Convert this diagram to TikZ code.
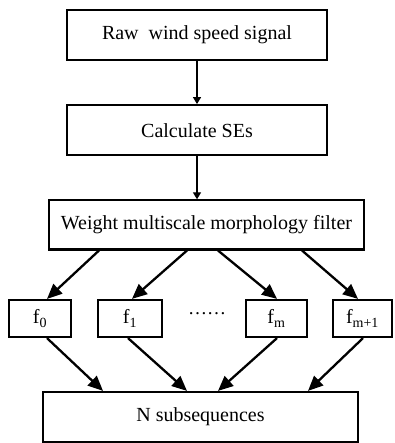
\documentclass[tikz,border=0pt]{standalone}
\usepackage{fontspec}
\setmainfont{Liberation Serif}
\usetikzlibrary{
arrows.meta,
positioning
}

\begin{document}
\begin{tikzpicture}[
x=1pt,y=1pt,
node distance=43pt,
box/.style={
draw,
line width=2.2pt,
minimum width=260pt,
minimum height=50pt,
inner sep=0pt,
align=center,
font=\fontsize{20}{24}\selectfont
},
widebox/.style={box,minimum width=315pt},
fbox/.style={box,minimum width=62pt,minimum height=37pt},
arrow/.style={-{Triangle[length=7pt,width=8pt]},line width=1.4pt},
bigarrow/.style={-{Triangle[length=15pt,width=13pt]},line width=2.3pt}
]
\useasboundingbox (0,0) rectangle (394,-443);

\node[box] (raw) at (197,-35) {Raw\ \ wind speed signal};
\node[box,below=of raw] (ses) {Calculate SEs};
\node[widebox,minimum height=49pt,below=of ses,xshift=9.5pt] (filter) {Weight multiscale morphology filter};

\node[fbox] (f0) at (40,-318.5) {f\textsubscript{0}};
\node[fbox,minimum width=64pt] (f1) at (130,-318.5) {f\textsubscript{1}};
\node[font=\fontsize{19}{23}\selectfont] (dots) at (207,-314) {……};
\node[fbox,minimum width=61pt] (fm) at (276.5,-318.5) {f\textsubscript{m}};
\node[fbox,minimum width=59pt] (fmm) at (362.5,-318.5) {f\textsubscript{m+1}};

\node[widebox] (subseq) at (200.5,-417) {N subsequences};

\draw[arrow] (raw) -- (ses);
\draw[arrow] (ses.south) -- (ses.south |- filter.north);

\draw[bigarrow] ([xshift=-107.5pt]filter.south) -- ([xshift=7pt]f0.north);
\draw[bigarrow] ([xshift=-19.5pt]filter.south) -- ([xshift=2pt]f1.north);
\draw[bigarrow] ([xshift=11.5pt]filter.south) -- ([xshift=0.5pt]fm.north);
\draw[bigarrow] ([xshift=95.5pt]filter.south) -- ([xshift=-4.5pt]fmm.north);

\draw[bigarrow] ([xshift=7pt]f0.south) -- ([xshift=-97.5pt]subseq.north);
\draw[bigarrow] ([xshift=-2pt]f1.south) -- ([xshift=-13.5pt]subseq.north);
\draw[bigarrow] ([xshift=0.5pt]fm.south) -- ([xshift=17.5pt]subseq.north);
\draw[bigarrow] ([xshift=0.5pt]fmm.south) -- ([xshift=107.5pt]subseq.north);

\end{tikzpicture}
\end{document}
